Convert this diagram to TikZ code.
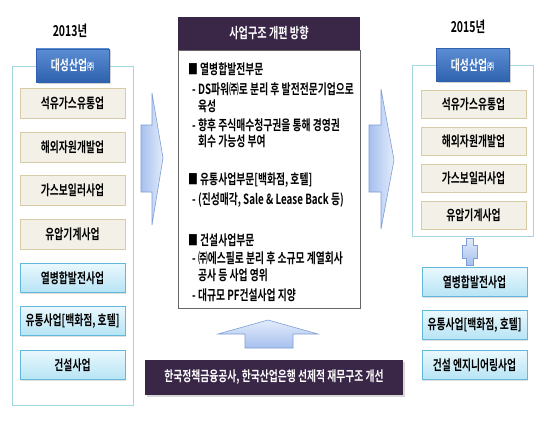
\documentclass[tikz,border=0pt]{standalone}
\usepackage{fontspec}
\newfontfamily\krfont{Noto Sans CJK KR}[FakeStretch=0.7, BoldFont={Noto Sans CJK KR Bold}]
\usetikzlibrary{shadows}
\definecolor{framecyan}{HTML}{A3D8E0}
\definecolor{headtop}{HTML}{5A8DD3}
\definecolor{headbot}{HTML}{2F62AE}
\definecolor{beigefill}{HTML}{F3F0E7}
\definecolor{beigeline}{HTML}{D8CCA8}
\definecolor{cyantop}{HTML}{EAF8FD}
\definecolor{cyanbot}{HTML}{B6E4F5}
\definecolor{cyanline}{HTML}{62B8DA}
\definecolor{plum}{HTML}{3A2647}
\definecolor{arrowdark}{HTML}{A6C0EE}
\definecolor{arrowlight}{HTML}{E3ECFB}
\definecolor{arrowline}{HTML}{7E9ED6}
\tikzset{
  krtext/.style={font=\krfont\bfseries\fontsize{14}{16}\selectfont},
  yearlabel/.style={krtext, font=\krfont\bfseries\fontsize{15}{17}\selectfont},
  headbox/.style={krtext, text=white, top color=headtop, bottom color=headbot,
    draw=headbot, minimum width=73pt, minimum height=33pt, inner sep=0pt,
    drop shadow={opacity=0.35, shadow xshift=1.5pt, shadow yshift=-1.5pt}},
  oldbiz/.style={krtext, fill=beigefill, draw=beigeline, line width=0.8pt,
    minimum width=105pt, minimum height=30pt, inner sep=0pt,
    drop shadow={opacity=0.2, shadow xshift=1pt, shadow yshift=-1pt}},
  newbiz/.style={krtext, top color=cyantop, bottom color=cyanbot, draw=cyanline,
    line width=0.8pt, minimum width=105pt, minimum height=29pt, inner sep=0pt,
    drop shadow={opacity=0.25, shadow xshift=1pt, shadow yshift=-1pt}},
  plan/.style={krtext, anchor=west, inner sep=0pt},
  bigarrow/.style={left color=arrowdark, right color=arrowlight, draw=arrowline,
    line width=0.6pt}
}
\begin{document}
\begin{tikzpicture}[x=1pt,y=-1pt]
  \useasboundingbox[fill=white] (0,0) rectangle (540,420);
  % 2013
  \node[yearlabel] (y13) at (70,31) {2013년};
  \draw[framecyan, line width=0.8pt] (12,66) rectangle (133,405);
  \node[headbox] (h13) at (72.5,65.5) {대성산업{\fontsize{10}{10}\selectfont ㈜}};
  \foreach \y/\lab [count=\i] in {103/석유가스유통업, 147/해외자원개발업,
      190/가스보일러사업, 234/유압기계사업} {
    \node[oldbiz] (old\i) at (72.5,\y) {\lab};
  }
  \foreach \y/\lab [count=\i] in {278/열병합발전사업, 321/{유통사업[백화점, 호텔]},
      365/건설사업} {
    \node[newbiz] (oldn\i) at (72.5,\y) {\lab};
  }
  % arrows
  \draw[bigarrow] (141,125) -- (152,125) -- (152,93) -- (163,158) -- (152,225)
    -- (152,192) -- (141,192) -- cycle;
  \draw[bigarrow] (369,125) -- (381,125) -- (381,89) -- (394,160) -- (381,229)
    -- (381,192) -- (369,192) -- cycle;
  \draw[bigarrow, top color=arrowlight, bottom color=arrowdark]
    (268,320) -- (318,334) -- (293,334) -- (293,348) -- (245,348) -- (245,334)
    -- (218,334) -- cycle;
  % center plan
  \draw[gray!80!black, line width=0.8pt, fill=white] (178,50) rectangle (360,308);
  \fill[plum] (178,17) rectangle (360,50);
  \node[krtext, text=white, font=\krfont\bfseries\fontsize{14.5}{16}\selectfont]
    (title) at (269,33.5) {사업구조 개편 방향};
  \node[plan] (p1) at (188,69) {■ 열병합발전부문};
  \node[plan] (p2) at (192,89) {- DS파워㈜로 분리 후 발전전문기업으로};
  \node[plan] (p3) at (198,106) {육성};
  \node[plan] (p4) at (192,125) {- 향후 주식매수청구권을 통해 경영권};
  \node[plan] (p5) at (198,141) {회수 가능성 부여};
  \node[plan] (p6) at (188,180) {■ 유통사업부문[백화점, 호텔]};
  \node[plan] (p7) at (192,200) {- (진성매각, Sale \& Lease Back 등)};
  \node[plan] (p8) at (188,240) {■ 건설사업부문};
  \node[plan] (p9) at (192,258) {- ㈜에스필로 분리 후 소규모 계열회사};
  \node[plan] (p10) at (198,275) {공사 등 사업 영위};
  \node[plan] (p11) at (192,295) {- 대규모 PF건설사업 지양};
  % bottom
  \fill[plum, drop shadow={opacity=0.3, shadow xshift=1.5pt, shadow yshift=-1.5pt}]
    (145,360) rectangle (403,395);
  \node[krtext, text=white] (base) at (274,377.5)
    {한국정책금융공사, 한국산업은행 선제적 재무구조 개선};
  % 2015
  \node[yearlabel] (y15) at (468,27) {2015년};
  \draw[framecyan, line width=0.8pt] (412,65) rectangle (533,236);
  \node[headbox] (h15) at (472.5,65) {대성산업{\fontsize{10}{10}\selectfont ㈜}};
  \foreach \y/\lab [count=\i] in {104/석유가스유통업, 141/해외자원개발업,
      178/가스보일러사업, 215/유압기계사업} {
    \node[oldbiz, minimum height=28pt] (new\i) at (473.5,\y) {\lab};
  }
  \draw[bigarrow, top color=arrowlight, bottom color=arrowdark]
    (466,238) -- (473,238) -- (473,245) -- (477,245) -- (477,258) -- (473,258)
    -- (473,265) -- (466,265) -- (466,258) -- (462,258) -- (462,245) -- (466,245)
    -- cycle;
  \foreach \y/\lab [count=\i] in {282/열병합발전사업, 325/{유통사업[백화점, 호텔]},
      365/건설 엔지니어링사업} {
    \node[newbiz] (newn\i) at (474.5,\y) {\lab};
  }
\end{tikzpicture}
\end{document}
